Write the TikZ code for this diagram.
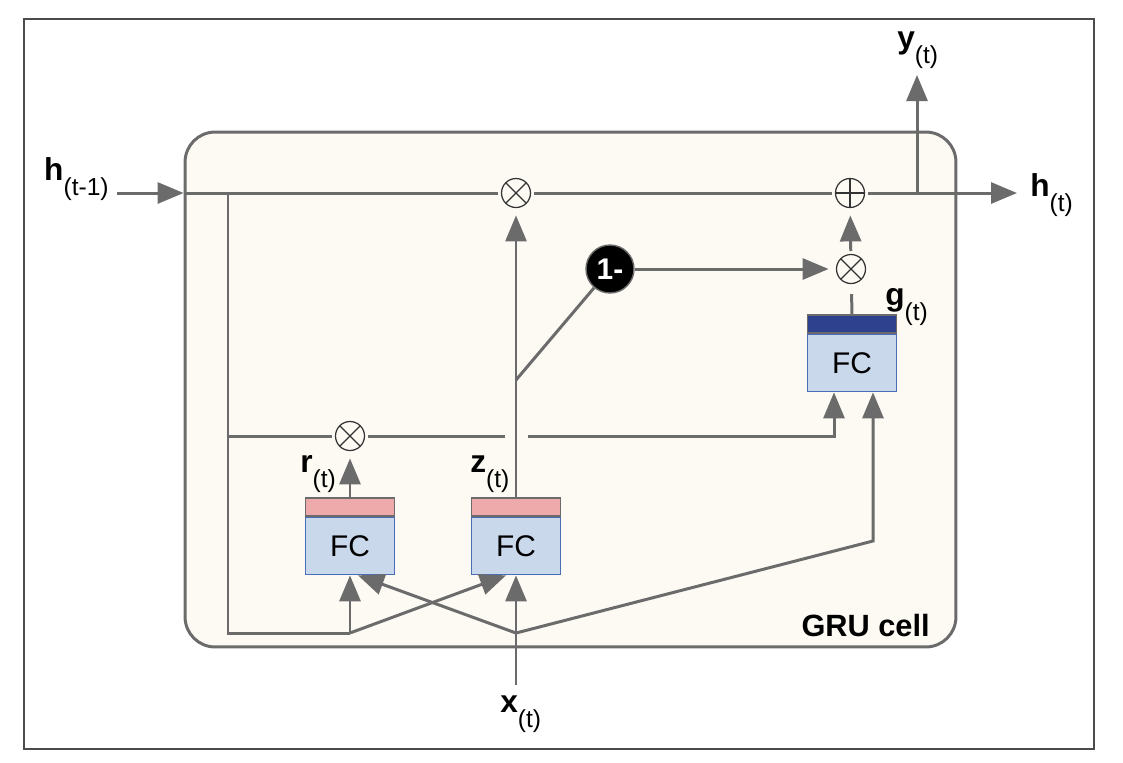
\documentclass[tikz,border=0pt]{standalone}
\usepackage{fontspec}
\setmainfont{Liberation Sans}
\usetikzlibrary{arrows.meta,positioning,calc}

\definecolor{wire}{HTML}{6B6B6B}
\definecolor{cellbg}{HTML}{FCFAF3}
\definecolor{fcblue}{HTML}{CAD8EC}
\definecolor{fcedge}{HTML}{4A6DB8}
\definecolor{sigpink}{HTML}{EEAAAA}
\definecolor{tanhblue}{HTML}{2E418F}

\newcommand{\tsub}[2]{{\fontsize{18}{20}\selectfont\textbf{#1}}\raisebox{-9pt}{\fontsize{14}{14}\selectfont(#2)}}

\tikzset{
  wire/.style={color=wire,line width=1.7pt},
  toop/.style={shorten >=2.5pt},
  op/.style={circle,draw=black!80,line width=0.7pt,fill=cellbg,minimum size=0.58cm,outer sep=2pt},
  mul/.style={op,path picture={\draw[black!80,line width=0.7pt]
      (path picture bounding box.north west)--(path picture bounding box.south east)
      (path picture bounding box.north east)--(path picture bounding box.south west);}},
  plus/.style={op,path picture={\draw[black!80,line width=0.7pt]
      (path picture bounding box.north)--(path picture bounding box.south)
      (path picture bounding box.west)--(path picture bounding box.east);}},
  oneminus/.style={circle,fill=black,draw=wire,line width=0.8pt,minimum size=0.96cm,
      text=white,font=\bfseries\fontsize{17}{17}\selectfont},
  fc/.style={rectangle,fill=fcblue,draw=fcedge,line width=1pt,minimum width=1.78cm,minimum height=1.14cm},
  gatebar/.style={rectangle,draw=wire,line width=0.8pt,minimum width=1.78cm,minimum height=0.36cm},
  cellbox/.style={rectangle,rounded corners=0.6cm,draw=wire,line width=1.7pt,fill=cellbg,
      minimum width=15.42cm,minimum height=10.3cm}
}

\begin{document}
\begin{tikzpicture}[x=0.02cm,y=-0.02cm,>={Triangle[length=0.52cm,width=0.42cm]},
  every node/.style={inner sep=0pt,font=\fontsize{17}{20}\selectfont}]

\useasboundingbox (0,0) rectangle (1123,762);
\draw[black!70,line width=0.85pt] (24,19) rectangle (1094,749);

\node[cellbox] (cell) at (570.5,389.5) {};
\node[anchor=base east,font=\bfseries\fontsize{17.5}{20}\selectfont] (celllbl) at (930,636) {GRU cell};

% operators
\node[mul]  (mz)  at (516,193) {};
\node[plus] (add) at (850,193) {};
\node[mul]  (mg)  at (851,269) {};
\node[mul]  (mr)  at (350,436) {};
\node[oneminus] (onem) at (610,269) {1-};

% fully connected layers
\node[fc] (rfc) at (350,546) {FC};
\node[gatebar,fill=sigpink] (rbar) [above=0pt of rfc] {};
\node[fc] (zfc) at (516,546) {FC};
\node[gatebar,fill=sigpink] (zbar) [above=0pt of zfc] {};
\node[fc] (gfc) at (852,363) {FC};
\node[gatebar,fill=tanhblue] (gbar) [above=0pt of gfc] {};

% labels
\node[anchor=base east] (hprevl) at (109,180) {\tsub{h}{t-1}};
\node[anchor=base west] (hlbl) at (1030,196) {\tsub{h}{t}};
\node[anchor=base west] (ylbl) at (897,48) {\tsub{y}{t}};
\node[anchor=base west] (glbl) at (885,305) {\tsub{g}{t}};
\node[anchor=base west] (rlbl) at (300,472) {\tsub{r}{t}};
\node[anchor=base west] (zlbl) at (470,472) {\tsub{z}{t}};
\node[anchor=base west] (xlbl) at (500,712) {\tsub{x}{t}};

% free ends and bends
\coordinate (hin)   at (117,193);
\coordinate (hjoin) at (cell.west|-hin);
\coordinate (hdown) at (228,193);
\coordinate (hbot)  at (228,633);
\coordinate (rjoin) at (350,633);
\coordinate (xjoin) at (516,633);
\coordinate (xin)   at (516,685);
\coordinate (gright) at (873,541);
\coordinate (ybr)   at (917,193);
\coordinate (yout)  at (917,75);
\coordinate (hout)  at (1017,193);
\coordinate (rleft) at (228,436);
\coordinate (gapl)  at (505,436);
\coordinate (gapr)  at (528,436);
\coordinate (gleft) at (834,436);
\coordinate (zbr)   at (516,380);

\path[wire,->] (hin) edge (hjoin)
               (add) edge (hout)
               (ybr) edge (yout)
               (rjoin) edge (rfc.south)
               (rjoin) edge ($(zfc.south)+(-10,0)$)
               (xin) edge (zfc.south)
               (xjoin) edge ($(rfc.south)+(8,0)$)
               (onem) edge[toop] (mg)
               (mg) edge[toop] (add)
               (rbar.north) edge[toop] (mr)
               (zbar.north) edge[toop] (mz);

\draw[wire] (hjoin) -- (mz) -- (add);
\draw[wire] (hdown) -- (hbot) -- (rjoin);
\draw[wire] (zbr) -- (onem);
\draw[wire,shorten <=4pt] (mg) -- (gbar.north);
\draw[wire] (rleft) -- (mr) -- (gapl);
\draw[wire,->] (gapr) -- (gleft) -- ($(gfc.south)+(-18,0)$);
\draw[wire,->] (xjoin) -- (gright) -- ($(gfc.south)+(21,0)$);

\end{tikzpicture}
\end{document}
